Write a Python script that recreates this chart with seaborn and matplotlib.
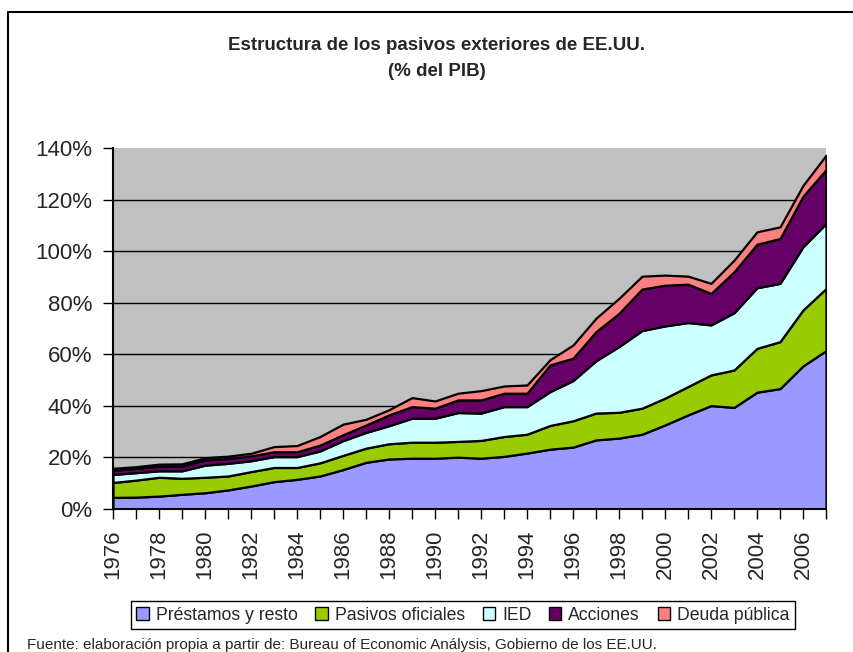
import matplotlib
matplotlib.use('Agg')
import numpy as np
import matplotlib.pyplot as plt
import seaborn as sns
from matplotlib.lines import Line2D
from matplotlib.patches import Patch

# datos (% del PIB), 1976-2007
years = list(range(1976, 2008))
prestamos = [4.5, 4.6, 5.0, 5.7, 6.3, 7.4, 8.9, 10.6, 11.5, 12.8, 15.3, 18.1, 19.4, 19.7, 19.7, 20.1,
             19.7, 20.4, 21.7, 23.2, 24.0, 26.8, 27.5, 29.0, 32.6, 36.5, 40.1, 39.4, 45.3, 46.7, 55.5, 61.4]
pasivos_oficiales = [5.8, 6.6, 7.3, 6.2, 6.0, 5.4, 5.6, 5.5, 4.6, 5.1, 5.5, 5.5, 5.9, 6.2, 6.2, 6.1,
                     6.9, 7.7, 7.3, 9.2, 10.2, 10.4, 10.0, 10.1, 10.4, 11.0, 11.9, 14.5, 17.0, 18.2, 21.7, 24.1]
ied = [3.1, 2.9, 2.5, 2.9, 4.7, 4.9, 4.2, 4.2, 4.2, 4.6, 5.7, 6.1, 7.0, 9.3, 9.3, 11.2,
       10.6, 11.6, 10.7, 13.1, 15.6, 20.3, 25.5, 30.1, 28.0, 24.8, 19.4, 22.2, 23.5, 22.6, 24.5, 25.2]
acciones = [1.7, 1.6, 1.8, 1.8, 2.0, 1.9, 1.9, 1.9, 1.9, 2.3, 2.3, 2.9, 4.2, 4.5, 3.9, 4.9,
            5.1, 5.2, 5.2, 10.4, 8.7, 11.3, 12.9, 16.1, 15.8, 14.9, 12.2, 15.9, 16.9, 17.4, 19.6, 20.9]
deuda_publica = [0.7, 0.7, 0.8, 0.9, 0.9, 0.9, 1.0, 2.0, 2.4, 3.3, 4.1, 2.2, 2.0, 3.5, 2.8, 2.6,
                 3.6, 2.8, 3.2, 2.0, 5.1, 5.2, 5.8, 5.0, 3.9, 3.1, 3.9, 4.5, 4.8, 4.5, 4.2, 5.6]

series_names = ['Préstamos y resto', 'Pasivos oficiales', 'IED', 'Acciones', 'Deuda pública']
colors = ['#9999FF', '#99CC00', '#CCFFFF', '#660066', '#FF8080']
y_ticks = list(range(0, 141, 20))

sns.set_style('white')
plt.rcParams['font.family'] = ['Liberation Sans', 'DejaVu Sans']

W, H = 854, 652
fig = plt.figure(figsize=(W / 100, H / 100), dpi=100)
ax = fig.add_axes([113 / W, 1 - 509 / H, (826 - 113) / W, (509 - 148) / H])

ax.stackplot(years, prestamos, pasivos_oficiales, ied, acciones, deuda_publica,
             colors=colors, edgecolor='black', linewidth=1.6, zorder=2)

ax.set_facecolor('#C0C0C0')
ax.set_xlim(years[0], years[-1])
ax.set_ylim(0, 140)
ax.set_yticks(y_ticks)
ax.set_yticklabels([f'{v}%' for v in y_ticks])
ax.set_xticks(years)
ax.set_xticklabels([str(y) if y % 2 == 0 else '' for y in years], rotation=90)
ax.yaxis.grid(True, color='black', linewidth=1)
ax.set_axisbelow(True)
ax.get_ygridlines()[-1].set_visible(False)

sns.despine(ax=ax)
for side in ['left', 'bottom']:
    ax.spines[side].set_color('black')
    ax.spines[side].set_linewidth(1.5)
ax.tick_params(axis='both', direction='out', length=7, width=1, color='black',
               labelsize=16, pad=8, left=True, bottom=True)

# titulo
fig.text(437 / W, 1 - 45 / H, 'Estructura de los pasivos exteriores de EE.UU.',
         ha='center', va='center', fontsize=13.5, fontweight='bold')
fig.text(437 / W, 1 - 72 / H, '(% del PIB)',
         ha='center', va='center', fontsize=13.5, fontweight='bold')

# leyenda
handles = [Patch(facecolor=c, edgecolor='black', linewidth=1) for c in colors]
fig.legend(handles, series_names, ncol=5, loc='center',
           bbox_to_anchor=(463 / W, 1 - 615 / H), fontsize=12.7,
           frameon=True, fancybox=False, edgecolor='black', framealpha=1,
           handlelength=0.7, handleheight=0.7, handletextpad=0.4,
           columnspacing=1.0, borderpad=0.3)

fig.text(27 / W, 1 - 645 / H,
         'Fuente: elaboración propia a partir de: Bureau of Economic Análysis, Gobierno de los EE.UU.',
         ha='left', va='center', fontsize=11)

# marco del grafico
fig.add_artist(Line2D([8 / W, 8 / W], [0, 1 - 12 / H], color='black', linewidth=1.5))
fig.add_artist(Line2D([8 / W, 1], [1 - 12 / H, 1 - 12 / H], color='black', linewidth=1.5))

fig.savefig('out.png', dpi=100)
